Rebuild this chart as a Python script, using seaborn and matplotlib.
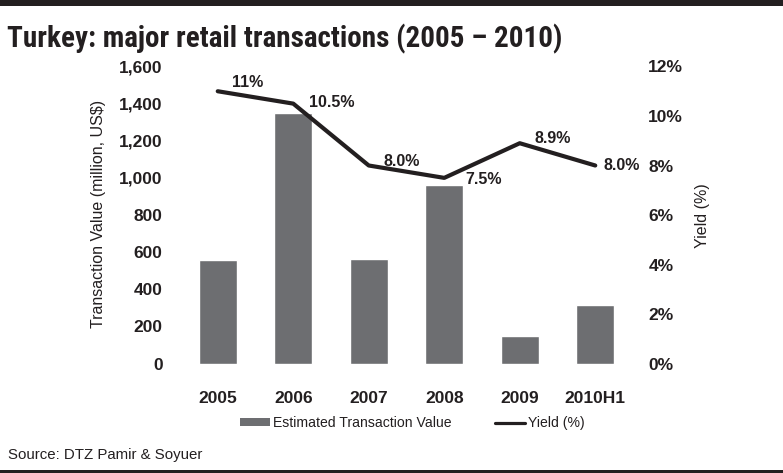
import matplotlib
matplotlib.use("Agg")
import matplotlib.pyplot as plt
import numpy as np
import pandas as pd
import seaborn as sns
from matplotlib.patches import Patch, Rectangle
from matplotlib.lines import Line2D
from matplotlib.ticker import FuncFormatter
from matplotlib import font_manager

# --- data -------------------------------------------------------------
years = ["2005", "2006", "2007", "2008", "2009", "2010H1"]
transaction_value = [560, 1350, 565, 960, 150, 315]      # million US$
yield_pct = [11.0, 10.5, 8.0, 7.5, 8.9, 8.0]              # %
yield_labels = ["11%", "10.5%", "8.0%", "7.5%", "8.9%", "8.0%"]
left_ticks = [0, 200, 400, 600, 800, 1000, 1200, 1400, 1600]
right_ticks = [0, 2, 4, 6, 8, 10, 12]

df = pd.DataFrame({"year": years, "value": transaction_value,
                   "yield": yield_pct, "pos": np.arange(len(years))})

# --- style ------------------------------------------------------------
sns.set_theme(style="white")
plt.rcParams["font.family"] = ["Liberation Sans", "DejaVu Sans"]
INK = "#231f20"
BAR = "#6d6e71"

# pick a condensed face for the headline when one is installed
installed = {f.name for f in font_manager.fontManager.ttflist}
title_family = next((n for n in ["Liberation Sans Narrow", "DejaVu Sans Condensed",
                                 "Roboto Condensed", "Open Sans Condensed"]
                     if n in installed), "Liberation Sans")
title_size = 19 if title_family == "Liberation Sans" else 21

W, H = 783, 473
fig = plt.figure(figsize=(W / 100, H / 100), dpi=100)
fig.patch.set_facecolor("white")

def px(x0, y0, x1, y1):
    """Axes rectangle from pixel box (top-left origin)."""
    return [x0 / W, 1 - y1 / H, (x1 - x0) / W, (y1 - y0) / H]

ax = fig.add_axes(px(180, 66.5, 633, 363.5))
sns.barplot(data=df, x="year", y="value", color=BAR, width=0.5,
            saturation=1, ax=ax, zorder=2)
ax.set_xlim(-0.5, len(years) - 0.5)
ax.set_ylim(0, 1600)
ax.set_yticks(left_ticks)
ax.yaxis.set_major_formatter(FuncFormatter(lambda v, _: f"{int(v):,}"))
ax.set_xlabel("")
ax.set_ylabel("")
ax.tick_params(axis="y", length=0, pad=12.5, labelsize=12.5, labelcolor=INK)
ax.tick_params(axis="x", length=0, pad=20, labelsize=12.5, labelcolor=INK)
for lab in ax.get_xticklabels() + ax.get_yticklabels():
    lab.set_fontweight("bold")
for s in ax.spines.values():
    s.set_visible(False)
ax.grid(False)

ax2 = ax.twinx()
sns.lineplot(data=df, x="pos", y="yield", color=INK, linewidth=3.0,
             ax=ax2, zorder=3)
ax2.set_ylim(0, 12)
ax2.set_yticks(right_ticks)
ax2.yaxis.set_major_formatter(FuncFormatter(lambda v, _: f"{int(v)}%"))
ax2.set_ylabel("")
ax2.set_xlabel("")
ax2.tick_params(axis="y", length=0, pad=11, labelsize=12.5, labelcolor=INK)
for lab in ax2.get_yticklabels():
    lab.set_fontweight("bold")
for s in ax2.spines.values():
    s.set_visible(False)
ax2.grid(False)
ax2.set_xlim(-0.5, len(years) - 0.5)

# value labels on the yield line
label_offsets = [(30, 9), (38, 1), (33, 4.5), (39, -2), (32.5, 5), (26.5, 0)]
for i, (lbl, (dx, dy)) in enumerate(zip(yield_labels, label_offsets)):
    ax2.annotate(lbl, (i, yield_pct[i]), xytext=(dx, dy),
                 textcoords="offset pixels", ha="center", va="center",
                 fontsize=11.5, fontweight="bold", color=INK, zorder=4)

# axis titles
fig.text(98 / W, 1 - 214 / H, "Transaction Value (million, US$)",
         rotation=90, ha="center", va="center", fontsize=11.5, color=INK)
fig.text(702 / W, 1 - 216 / H, "Yield (%)", rotation=90,
         ha="center", va="center", fontsize=11.5, color=INK)

# chart title and source
fig.text(7 / W, 1 - 47.5 / H, "Turkey: major retail transactions (2005 \u2013 2010)",
         ha="left", va="baseline", fontsize=title_size, fontweight="bold",
         color=INK, family=[title_family, "DejaVu Sans"])
fig.text(8 / W, 1 - 455 / H, "Source: DTZ Pamir & Soyuer",
         ha="left", va="center", fontsize=10.8, color=INK)

# legend
handles = [Patch(facecolor=BAR, edgecolor="none"),
           Line2D([0], [0], color=INK, linewidth=2.3)]
fig.legend(handles, ["Estimated Transaction Value", "Yield (%)"],
           loc="center", bbox_to_anchor=(412 / W, 1 - 423 / H), ncol=2,
           frameon=False, fontsize=10.1, handlelength=2.15,
           handleheight=0.4, handletextpad=0.2, columnspacing=3.1,
           borderpad=0, labelcolor=INK)

# frame bars at the top and bottom of the figure
fig.add_artist(Rectangle((0, 1 - 6 / H), 1, 6 / H, transform=fig.transFigure,
                         facecolor=INK, edgecolor="none"))
fig.add_artist(Rectangle((0, 0), 1, 3 / H, transform=fig.transFigure,
                         facecolor=INK, edgecolor="none"))

fig.savefig("out.png", dpi=100)
